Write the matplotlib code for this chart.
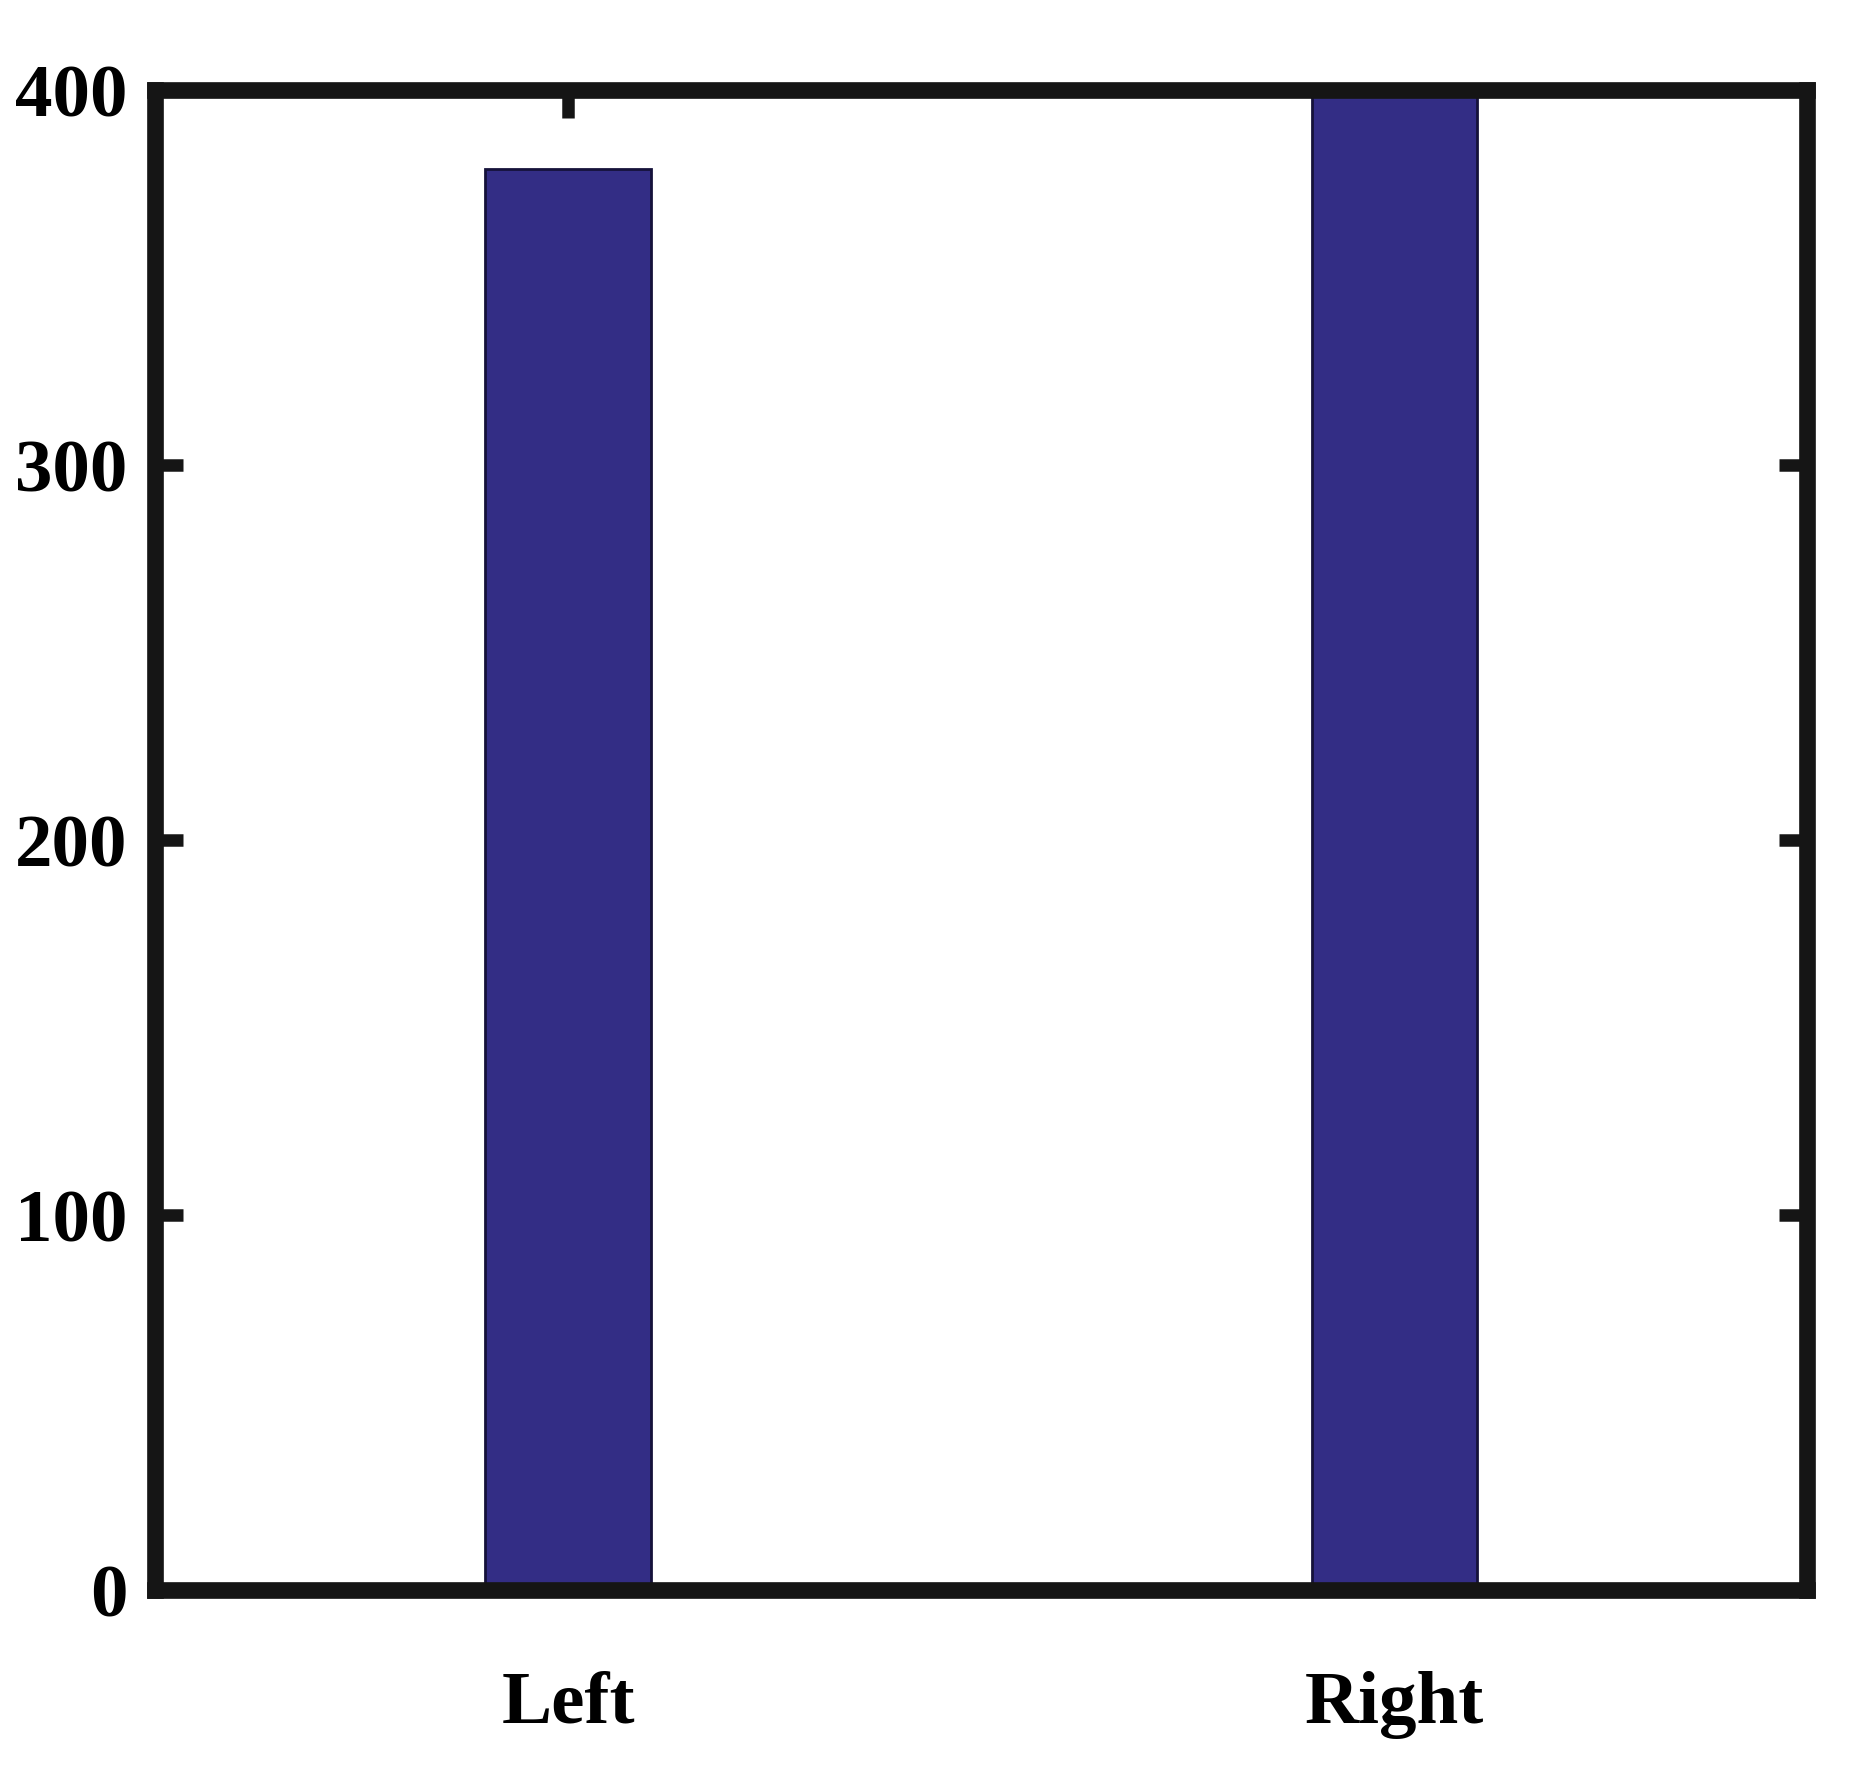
import matplotlib
matplotlib.use("Agg")
import matplotlib.pyplot as plt

# ── DATA ──────────────────────────────────────────────────────────────────────
categories = ["Left", "Right"]
counts = [379, 400]
y_ticks = [0, 100, 200, 300, 400]

BAR_COLOR = "#332D85"

plt.rcParams["font.family"] = ["Liberation Serif", "DejaVu Serif"]
plt.rcParams["font.weight"] = "bold"

fig = plt.figure(figsize=(18.67, 17.71), dpi=100)
ax = fig.add_axes([0.083, 0.102, 0.885, 0.847])

positions = list(range(1, len(categories) + 1))
ax.bar(positions, counts, width=0.2, color=BAR_COLOR,
       edgecolor="#15123a", linewidth=2)

ax.set_xlim(0.5, 2.5)
ax.set_ylim(0, 400)
ax.set_xticks(positions)
ax.set_xticklabels(categories)
ax.set_yticks(y_ticks)
ax.set_axisbelow(True)   # bars hide the ticks, as in the source figure

for spine in ax.spines.values():
    spine.set_linewidth(12)
    spine.set_color("#151515")

ax.tick_params(axis="both", direction="in", length=20, width=9,
               color="#151515", top=True, right=True,
               labelsize=54)
ax.tick_params(axis="y", pad=20)
ax.tick_params(axis="x", pad=58)

fig.savefig("out.png", dpi=100, facecolor="white")
